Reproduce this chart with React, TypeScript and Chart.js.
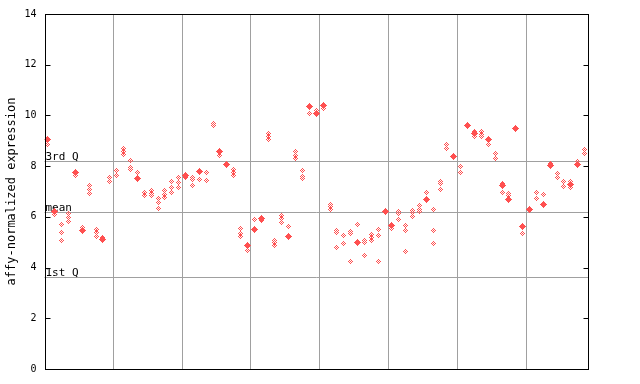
import React, { useEffect, useRef } from "react";
import { Chart, registerables } from "chart.js";

Chart.register(...registerables);

// Filled (highlighted) value per sample position; null where none
const filledValues: (number | null)[] = [
  9.04, 6.22, null, null, 7.73, 5.47, null, null, 5.12, null,
  null, null, null, 7.5, null, null, null, null, null, null,
  7.64, null, 7.77, null, null, 8.56, 8.07, null, null, 4.89,
  5.52, 5.93, null, null, null, 5.21, null, null, 10.35, 10.09,
  10.39, null, null, null, null, 4.98, null, null, null, 6.21,
  5.65, null, null, null, null, 6.7, null, null, null, 8.39,
  null, 9.61, 9.28, null, 9.04, null, 7.22, 6.69, 9.5, 5.61,
  6.3, null, 6.47, 8.01, null, null, 7.27, 8.07, null,
];

// Replicate values (hollow diamonds) per sample position
const hollowValues: number[][] = [
  [8.86], [6.1], [5.7, 5.4, 5.05], [6.13, 5.96, 5.8], [7.63], [5.57], [7.25, 7.09, 6.92], [5.52, 5.37, 5.24], [5.2], [7.57, 7.4],
  [7.84, 7.64], [8.71, 8.56, 8.45], [8.22, 7.96, 7.88], [7.75], [6.98, 6.85], [7.05, 6.92, 6.83], [6.72, 6.57, 6.33], [7.05, 6.88, 6.75], [7.4, 7.14, 6.95], [7.56, 7.35, 7.17],
  [7.54], [7.57, 7.47, 7.25], [7.48], [7.75, 7.43], [9.68, 9.6], [8.43], [], [7.88, 7.75, 7.64], [5.54, 5.35, 5.24], [4.68],
  [5.9], [5.87], [9.28, 9.15, 9.04], [5.07, 4.98, 4.89], [6.07, 5.94, 5.79], [5.63], [8.56, 8.43, 8.3], [7.84, 7.61, 7.51], [10.07], [10.2],
  [10.26], [6.49, 6.4, 6.29], [5.48, 5.39, 4.8], [5.28, 4.95], [5.41, 5.33, 4.22], [5.7], [5.06, 4.99, 4.48], [5.31, 5.19, 5.06], [5.51, 5.27, 4.25], [6.26],
  [5.53], [6.2, 6.12, 5.9], [5.67, 5.47, 4.64], [6.26, 6.17, 6.03], [6.46, 6.29, 6.2], [6.96], [6.3, 5.47, 4.93], [7.4, 7.31, 7.08], [8.85, 8.69], [],
  [8.0, 7.75], [9.55], [9.35, 9.17], [9.37, 9.24, 9.15], [8.85], [8.5, 8.3], [7.3, 6.95], [6.92, 6.83], [], [5.36],
  [6.25], [6.96, 6.72], [6.88], [8.12], [7.71, 7.54], [7.4, 7.18], [7.4, 7.14], [8.2], [8.65, 8.5],
];

const groupBoundaries = [9.5, 19.5, 29.5, 39.5, 49.5, 59.5, 69.5];
const yTicks = [0, 2, 4, 6, 8, 10, 12, 14];
const refLabels = ["3rd Q", "mean", "1st Q"];
const refValues = [8.22, 6.21, 3.62];
const yTitle = "affy-normalized expression";

const RED = "#ff5050";
const GRID = "#a0a0a0";

function makeDiamond(filled: boolean): HTMLCanvasElement {
  const c = document.createElement("canvas");
  c.width = 7;
  c.height = 7;
  const ctx = c.getContext("2d")!;
  ctx.fillStyle = RED;
  for (let dy = -3; dy <= 3; dy++) {
    for (let dx = -3; dx <= 3; dx++) {
      if (Math.abs(dx) + Math.abs(dy) <= 3) {
        if (filled || ((dx + dy) & 1) === 0) ctx.fillRect(dx + 3, dy + 3, 1, 1);
      }
    }
  }
  return c;
}

export default function App() {
  const ref = useRef<HTMLCanvasElement | null>(null);
  useEffect(() => {
    document.body.style.margin = "0";
    const hollowPts: { x: number; y: number }[] = [];
    hollowValues.forEach((vals, i) => vals.forEach((v) => hollowPts.push({ x: i, y: v })));
    const filledPts: { x: number; y: number }[] = [];
    filledValues.forEach((v, i) => {
      if (v !== null) filledPts.push({ x: i, y: v });
    });

    const hollowImg = makeDiamond(false);
    const filledImg = makeDiamond(true);

    const decor = {
      id: "decor",
      beforeDatasetsDraw(chart: any) {
        const { ctx, chartArea } = chart;
        const ys = chart.scales.y;
        ctx.save();
        ctx.strokeStyle = GRID;
        ctx.lineWidth = 1;
        refValues.forEach((v, k) => {
          const py = Math.round(ys.getPixelForValue(v)) + 0.5;
          ctx.beginPath();
          ctx.moveTo(chartArea.left, py);
          ctx.lineTo(chartArea.right, py);
          ctx.stroke();
          ctx.fillStyle = "#000";
          ctx.font = "11px 'DejaVu Sans Mono'";
          ctx.textAlign = "left";
          ctx.textBaseline = "alphabetic";
          ctx.fillText(refLabels[k], chartArea.left + 1, py - 1.5);
        });
        ctx.restore();
        ctx.imageSmoothingEnabled = false;
      },
      afterDraw(chart: any) {
        const { ctx, chartArea } = chart;
        const ys = chart.scales.y;
        ctx.save();
        ctx.strokeStyle = "#000";
        ctx.lineWidth = 1;
        const l = Math.round(chartArea.left) + 0.5;
        const r = Math.round(chartArea.right) + 0.5;
        const t = Math.round(chartArea.top) + 0.5;
        const b = Math.round(chartArea.bottom) + 0.5;
        ctx.strokeRect(l, t, r - l, b - t);
        yTicks.forEach((v) => {
          const py = Math.round(ys.getPixelForValue(v)) + 0.5;
          ctx.beginPath();
          ctx.moveTo(l, py);
          ctx.lineTo(l + 5, py);
          ctx.moveTo(r, py);
          ctx.lineTo(r - 5, py);
          ctx.stroke();
        });
        ctx.fillStyle = "#000";
        ctx.font = "12px 'DejaVu Sans Mono'";
        ctx.translate(12, (chartArea.top + chartArea.bottom) / 2);
        ctx.rotate(-Math.PI / 2);
        ctx.textAlign = "center";
        ctx.textBaseline = "middle";
        ctx.fillText(yTitle, 0, 0);
        ctx.restore();
      },
    };

    const chart = new Chart(ref.current!, {
      type: "scatter",
      data: {
        datasets: [
          {
            label: "replicates",
            data: hollowPts,
            pointStyle: hollowImg as any,
            pointRadius: 3,
          },
          {
            label: "values",
            data: filledPts,
            pointStyle: filledImg as any,
            pointRadius: 3,
          },
        ],
      },
      options: {
        animation: false,
        responsive: false,
        devicePixelRatio: 1,
        layout: { padding: { left: 0, right: 52, top: 13, bottom: 15 } },
        plugins: { legend: { display: false }, tooltip: { enabled: false } },
        scales: {
          x: {
            type: "linear",
            min: -0.5,
            max: 78.5,
            afterBuildTicks: (s: any) => {
              s.ticks = groupBoundaries.map((v) => ({ value: v }));
            },
            afterFit: (s: any) => {
              s.height = 0;
            },
            ticks: { display: false },
            grid: { color: GRID, drawTicks: false, lineWidth: 1 },
            border: { display: false },
          },
          y: {
            min: 0,
            max: 14,
            afterBuildTicks: (s: any) => {
              s.ticks = yTicks.map((v) => ({ value: v }));
            },
            afterFit: (s: any) => {
              s.width = 44.5;
            },
            ticks: {
              color: "#000",
              padding: 8,
              font: { family: "'DejaVu Sans Mono'", size: 10 },
            },
            grid: { display: false, drawTicks: false },
            border: { display: false },
          },
        },
      },
      plugins: [decor],
    });
    return () => chart.destroy();
  }, []);
  return (
    <div style={{ position: "absolute", left: 0, top: 0, width: 640, height: 384 }}>
      <canvas ref={ref} width={640} height={384} />
    </div>
  );
}
